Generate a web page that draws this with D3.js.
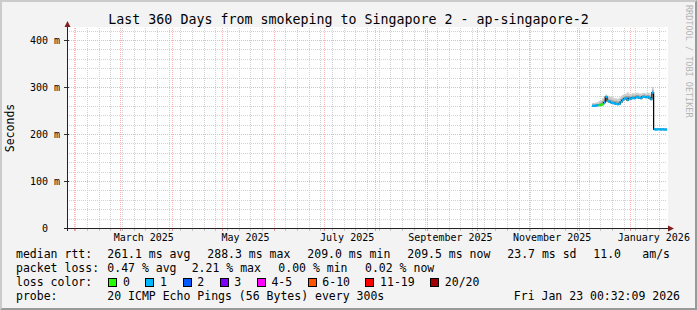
<!DOCTYPE html>
<html>
<head>
<meta charset="utf-8">
<script src="https://cdn.jsdelivr.net/npm/d3@7"></script>
<style>
  body { margin: 0; background: #f3f3f3; }
  svg { display: block; font-family: "DejaVu Sans Mono", monospace; }
</style>
</head>
<body>
<svg id="chart" width="697" height="310"></svg>
<script>
'use strict';

// Daily series, one value per day starting at firstDay (ms)
var firstDay = '2025-12-09';
var median = [260, 260, 260.5, 261, 261, 262, 263, 267, 279, 270,
  269, 267, 266, 265, 264, 263, 264, 268, 272, 275,
  276, 272, 276, 275, 277, 276, 278, 278, 277, 276,
  279, 279, 278, 279, 277, 274, 288, 210, 209.5, 210,
  210, 209.5, 210, 209.5, 209.5];
var smokeLo = [258.5, 258.5, 259, 259.5, 259.5, 260.5, 261.5, 265, 276, 268,
  267, 265, 264, 263, 262, 261.5, 262.5, 266, 270, 273,
  274, 270, 274, 273, 275, 274, 276, 276, 275, 274,
  277, 277, 276, 277, 275, 272, 284, 209, 209, 209,
  209, 209, 209, 209, 209];
var smokeMid = [263, 263, 264, 264, 265, 267, 270, 273, 281, 276,
  274, 273, 272, 270, 270, 269, 270, 274, 277, 280,
  281, 281, 281, 280, 282, 281, 283, 283, 282, 281,
  283, 284, 282, 283, 282, 279, 294, 211.5, 211.5, 211.5,
  211.5, 211.5, 211.5, 211.5, 211.5];
var smokeHi = [266, 266, 267, 268, 270, 272, 276, 280, 284, 282,
  280, 279, 278, 276, 276, 275, 277, 280, 283, 285,
  286, 289, 286, 285, 287, 286, 287, 288, 286, 286,
  287, 288, 286, 287, 287, 284, 300, 213, 213, 213,
  213, 213, 213, 213, 213];
// index into lossColors
var lossBucket = [1, 1, 1, 1, 0, 0, 0, 1, 1, 1,
  1, 1, 1, 1, 1, 1, 1, 1, 1, 1,
  1, 1, 1, 1, 1, 1, 1, 1, 1, 1,
  1, 1, 1, 1, 1, 1, 1, 1, 1, 1,
  1, 1, 1, 1, 1];

var lossLabels = ['0', '1', '2', '3', '4-5', '6-10', '11-19', '20/20'];
var lossColors = ['#26ff00', '#00b8ff', '#0059ff', '#7e00ff', '#ff00ff', '#ff5500', '#ff0000', '#a10000'];

var yMajor = [0, 100, 200, 300, 400];
var yLabels = ['0\u00a0\u00a0', '100 m', '200 m', '300 m', '400 m'];

var title = 'Last 360 Days from smokeping to Singapore 2 - ap-singapore-2';
var rowRtt = ['median rtt:', '261.1 ms avg', '288.3 ms max', '209.0 ms min', '209.5 ms now', '23.7 ms sd', '11.0', 'am/s'];
var rowLoss = ['packet loss:', '0.47 % avg', '2.21 % max', '0.00 % min', '0.02 % now'];
var rowProbe = ['probe:', '20 ICMP Echo Pings (56 Bytes) every 300s'];
var stamp = 'Fri Jan 23 00:32:09 2026';

var end = new Date(Date.UTC(2026, 0, 23, 0, 32, 9));
var start = d3.utcDay.offset(end, -360);

var W = 697, H = 310;
var L = 67, R = 667, T = 28, B = 228;

var svg = d3.select('#chart');

var x = d3.scaleUtc().domain([start, end]).range([L, R]);
var y = d3.scaleLinear().domain([0, 425.5]).range([B, T]);

// background + 3d border
svg.append('rect').attr('width', W).attr('height', H).attr('fill', '#f3f3f3');
svg.append('path').attr('d', 'M0,0H697L695,2H2V308L0,310Z').attr('fill', '#cbcbcb');
svg.append('path').attr('d', 'M697,0V310H0L2,308H695V2Z').attr('fill', '#999999');

svg.append('rect')
  .attr('x', L).attr('y', T - 1)
  .attr('width', R - L + 1).attr('height', B - T + 1)
  .attr('fill', '#ffffff');

var grid = svg.append('g').attr('shape-rendering', 'crispEdges');
var px = function(v) { return Math.round(v) + 0.5; };

// minor grid
var minorY = d3.range(20, 425, 20).filter(function(v) { return v % 100 !== 0; });
grid.selectAll('.hmin').data(minorY).enter().append('line')
  .attr('x1', L).attr('x2', R)
  .attr('y1', function(d) { return px(y(d)); })
  .attr('y2', function(d) { return px(y(d)); })
  .attr('stroke', '#d2d2d2').attr('stroke-dasharray', '1,1');

var weeks = d3.utcSunday.range(start, end);
grid.selectAll('.vmin').data(weeks).enter().append('line')
  .attr('x1', function(d) { return px(x(d)); })
  .attr('x2', function(d) { return px(x(d)); })
  .attr('y1', T).attr('y2', B)
  .attr('stroke', '#d2d2d2').attr('stroke-dasharray', '1,1');

// major grid
var months = d3.utcMonth.range(start, end);
grid.selectAll('.vmaj').data(months).enter().append('line')
  .attr('x1', function(d) { return px(x(d)); })
  .attr('x2', function(d) { return px(x(d)); })
  .attr('y1', T).attr('y2', B)
  .attr('stroke', '#f6b4b4').attr('stroke-dasharray', '1,1');

grid.selectAll('.hmaj').data(yMajor.slice(1)).enter().append('line')
  .attr('x1', L).attr('x2', R)
  .attr('y1', function(d) { return px(y(d)); })
  .attr('y2', function(d) { return px(y(d)); })
  .attr('stroke', '#f6b4b4').attr('stroke-dasharray', '1,1');

// data
var day0 = new Date(firstDay + 'T00:00:00Z');
var rows = median.map(function(m, i) {
  return {
    t0: d3.utcDay.offset(day0, i),
    t1: d3.utcDay.offset(day0, i + 1),
    med: m, lo: smokeLo[i], mid: smokeMid[i], hi: smokeHi[i], loss: lossBucket[i]
  };
});
var pts = rows.concat([Object.assign({}, rows[rows.length - 1], { t0: rows[rows.length - 1].t1 })]);

svg.append('clipPath').attr('id', 'clip')
  .append('rect').attr('x', L).attr('y', T).attr('width', R - L).attr('height', B - T);

var data = svg.append('g').attr('clip-path', 'url(#clip)');

var band = function(lo, hi) {
  return d3.area().curve(d3.curveStepAfter)
    .x(function(d) { return x(d.t0); })
    .y0(function(d) { return y(d[lo]); })
    .y1(function(d) { return y(d[hi]); });
};

data.append('path').datum(pts).attr('d', band('lo', 'hi')).attr('fill', '#cdcdcd');
data.append('path').datum(pts).attr('d', band('lo', 'mid')).attr('fill', '#a2a2a2');

data.append('path').datum(pts)
  .attr('d', d3.line().curve(d3.curveStepAfter)
    .x(function(d) { return x(d.t0); })
    .y(function(d) { return y(d.med); }))
  .attr('fill', 'none').attr('stroke', '#000').attr('stroke-width', 1.2);

data.selectAll('.med').data(rows).enter().append('rect')
  .attr('x', function(d) { return x(d.t0); })
  .attr('width', function(d) { return x(d.t1) - x(d.t0) + 0.3; })
  .attr('y', function(d) { return y(d.med) - 1.1; })
  .attr('height', 2.2)
  .attr('fill', function(d) { return lossColors[d.loss]; });

// axes
var axes = svg.append('g').attr('shape-rendering', 'crispEdges');
axes.selectAll('.xtick').data(weeks).enter().append('line')
  .attr('x1', function(d) { return px(x(d)); })
  .attr('x2', function(d) { return px(x(d)); })
  .attr('y1', B).attr('y2', B + 3).attr('stroke', '#c4c4c4');
axes.selectAll('.xmtick').data(months).enter().append('line')
  .attr('x1', function(d) { return px(x(d)); })
  .attr('x2', function(d) { return px(x(d)); })
  .attr('y1', B).attr('y2', B + 3).attr('stroke', '#f09090');
axes.selectAll('.ytick').data(yMajor).enter().append('line')
  .attr('x1', L - 3).attr('x2', L + 2)
  .attr('y1', function(d) { return px(y(d)); })
  .attr('y2', function(d) { return px(y(d)); })
  .attr('stroke', '#333');
axes.append('line').attr('x1', L - 3).attr('x2', R + 2).attr('y1', B + 0.5).attr('y2', B + 0.5).attr('stroke', '#222');
axes.append('line').attr('x1', L + 0.5).attr('x2', L + 0.5).attr('y1', B + 3).attr('y2', T - 3).attr('stroke', '#222');

svg.append('path').attr('d', 'M' + (L - 2.5) + ',' + (T - 1) + 'L' + (L + 3.5) + ',' + (T - 1) + 'L' + (L + 0.5) + ',' + (T - 7) + 'Z').attr('fill', '#7f1f1f');
svg.append('path').attr('d', 'M' + (R + 1) + ',' + (B - 2.5) + 'L' + (R + 1) + ',' + (B + 3.5) + 'L' + (R + 7) + ',' + (B + 0.5) + 'Z').attr('fill', '#7f1f1f');

// axis labels
svg.selectAll('.ylab').data(yMajor).enter().append('text')
  .attr('x', 60)
  .attr('y', function(d) { return y(d) + 3.6; })
  .attr('text-anchor', 'end')
  .attr('font-size', 10)
  .text(function(d, i) { return yLabels[i]; });

var labelMonths = d3.utcMonth.every(2).range(start, end)
  .filter(function(d) { return d3.utcDay.offset(d, 15) < end; });
var fmt = d3.utcFormat('%B %Y');
svg.selectAll('.xlab').data(labelMonths).enter().append('text')
  .attr('x', function(d) { return x(d3.utcDay.offset(d, 15)) - 1.5; })
  .attr('y', 241)
  .attr('text-anchor', 'middle')
  .attr('font-size', 10)
  .text(fmt);

svg.append('text')
  .attr('x', 348.5).attr('y', 24)
  .attr('text-anchor', 'middle')
  .attr('font-size', 13.3)
  .text(title);

svg.append('text')
  .attr('transform', 'translate(13.5,128) rotate(-90)')
  .attr('text-anchor', 'middle')
  .attr('font-size', 11.5)
  .text('Seconds');

svg.append('text')
  .attr('transform', 'translate(685.5,5) rotate(90)')
  .attr('font-size', 8.5)
  .attr('fill', '#b4b4b4')
  .text('RRDTOOL / TOBI OETIKER');

// legend
var legend = svg.append('g').attr('font-size', 11.5).attr('xml:space', 'preserve');
var putRow = function(items, xs, yy) {
  items.forEach(function(s, i) {
    legend.append('text').attr('x', xs[i]).attr('y', yy).text(s);
  });
};
putRow(rowRtt, [16, 107.3, 207.3, 307.3, 407.3, 507.3, 593.3, 642.3], 258);
putRow(rowLoss, [16, 107.3, 191.7, 278.3, 365], 272);
putRow(['loss color:'], [16], 286);
putRow(rowProbe, [16, 107.3], 300);
legend.append('text').attr('x', 680).attr('y', 300).attr('text-anchor', 'end').text(stamp);

var bx = 108.3;
lossLabels.forEach(function(lab, i) {
  legend.append('rect')
    .attr('x', Math.round(bx) + 0.5).attr('y', 278.5)
    .attr('width', 8).attr('height', 8)
    .attr('fill', lossColors[i]).attr('stroke', '#000')
    .attr('shape-rendering', 'crispEdges');
  legend.append('text').attr('x', bx + 14.7).attr('y', 286).text(lab);
  bx += 30.2 + lab.length * 6.9;
});
</script>
</body>
</html>
